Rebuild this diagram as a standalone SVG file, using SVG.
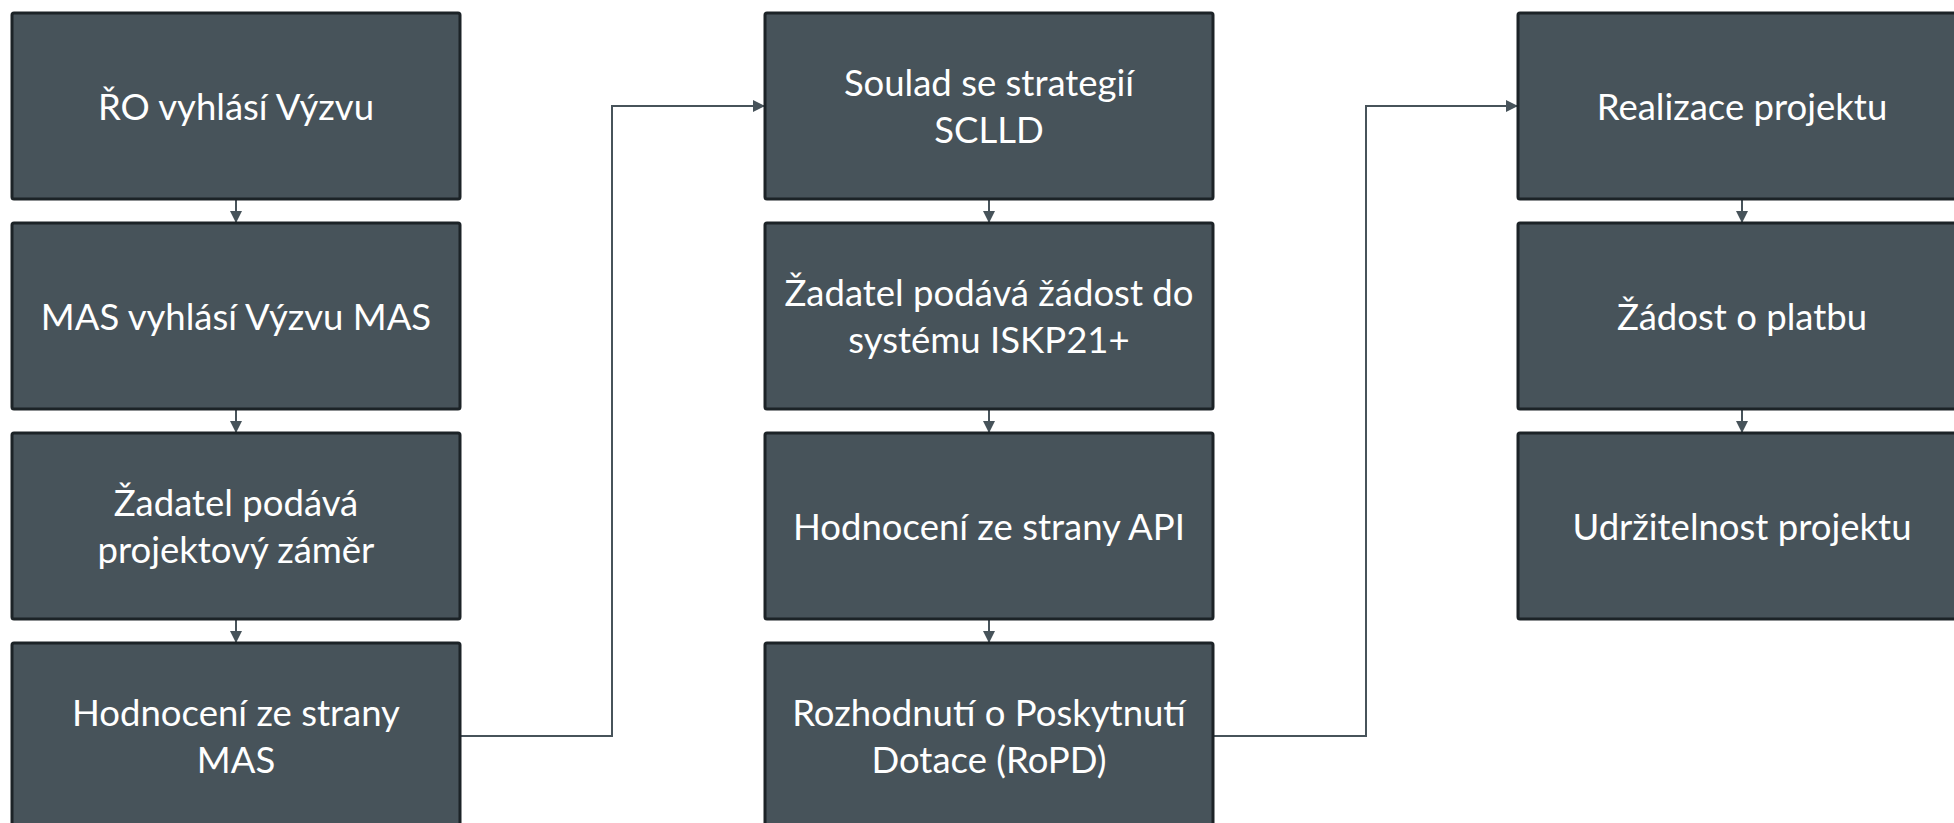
<svg xmlns="http://www.w3.org/2000/svg" width="1954" height="823" viewBox="0 0 1954 823">
<defs>
<marker id="ah" viewBox="0 0 12 12" refX="12" refY="6" markerWidth="12" markerHeight="12" markerUnits="userSpaceOnUse" orient="auto">
<path d="M0,0 L12,6 L0,12 Z" fill="#47535a"/>
</marker>
</defs>
<style>
.box{fill:#47535a;stroke:#1c2327;stroke-width:3}
.t{font-family:Lato,"Open Sans","Liberation Sans",sans-serif;font-size:36.5px;fill:#ffffff;text-anchor:middle}
.c{fill:none;stroke:#47535a;stroke-width:2;marker-end:url(#ah)}
</style>
<rect width="1954" height="823" fill="#ffffff"/>
<g id="connectors">
<path class="c" d="M236,199 V223"/>
<path class="c" d="M236,409 V433"/>
<path class="c" d="M236,619 V643"/>
<path class="c" d="M989,199 V223"/>
<path class="c" d="M989,409 V433"/>
<path class="c" d="M989,619 V643"/>
<path class="c" d="M1742,199 V223"/>
<path class="c" d="M1742,409 V433"/>
<path class="c" d="M460,736 H612 V106 H765"/>
<path class="c" d="M1213,736 H1366 V106 H1518"/>
</g>
<g id="n1"><rect class="box" x="12" y="13" width="448" height="186" rx="2"/><text class="t" x="236" y="120">ŘO vyhlásí Výzvu</text></g>
<g id="n2"><rect class="box" x="12" y="223" width="448" height="186" rx="2"/><text class="t" x="236" y="330">MAS vyhlásí Výzvu MAS</text></g>
<g id="n3"><rect class="box" x="12" y="433" width="448" height="186" rx="2"/><text class="t" x="236" y="516">Žadatel podává</text><text class="t" x="236" y="563">projektový záměr</text></g>
<g id="n4"><rect class="box" x="12" y="643" width="448" height="186" rx="2"/><text class="t" x="236" y="726">Hodnocení ze strany</text><text class="t" x="236" y="773">MAS</text></g>
<g id="n5"><rect class="box" x="765" y="13" width="448" height="186" rx="2"/><text class="t" x="989" y="96">Soulad se strategií</text><text class="t" x="989" y="143">SCLLD</text></g>
<g id="n6"><rect class="box" x="765" y="223" width="448" height="186" rx="2"/><text class="t" x="989" y="306">Žadatel podává žádost do</text><text class="t" x="989" y="353">systému ISKP21+</text></g>
<g id="n7"><rect class="box" x="765" y="433" width="448" height="186" rx="2"/><text class="t" x="989" y="540">Hodnocení ze strany API</text></g>
<g id="n8"><rect class="box" x="765" y="643" width="448" height="186" rx="2"/><text class="t" x="989" y="726">Rozhodnutí o Poskytnutí</text><text class="t" x="989" y="773">Dotace (RoPD)</text></g>
<g id="n9"><rect class="box" x="1518" y="13" width="448" height="186" rx="2"/><text class="t" x="1742" y="120">Realizace projektu</text></g>
<g id="n10"><rect class="box" x="1518" y="223" width="448" height="186" rx="2"/><text class="t" x="1742" y="330">Žádost o platbu</text></g>
<g id="n11"><rect class="box" x="1518" y="433" width="448" height="186" rx="2"/><text class="t" x="1742" y="540">Udržitelnost projektu</text></g>
</svg>
